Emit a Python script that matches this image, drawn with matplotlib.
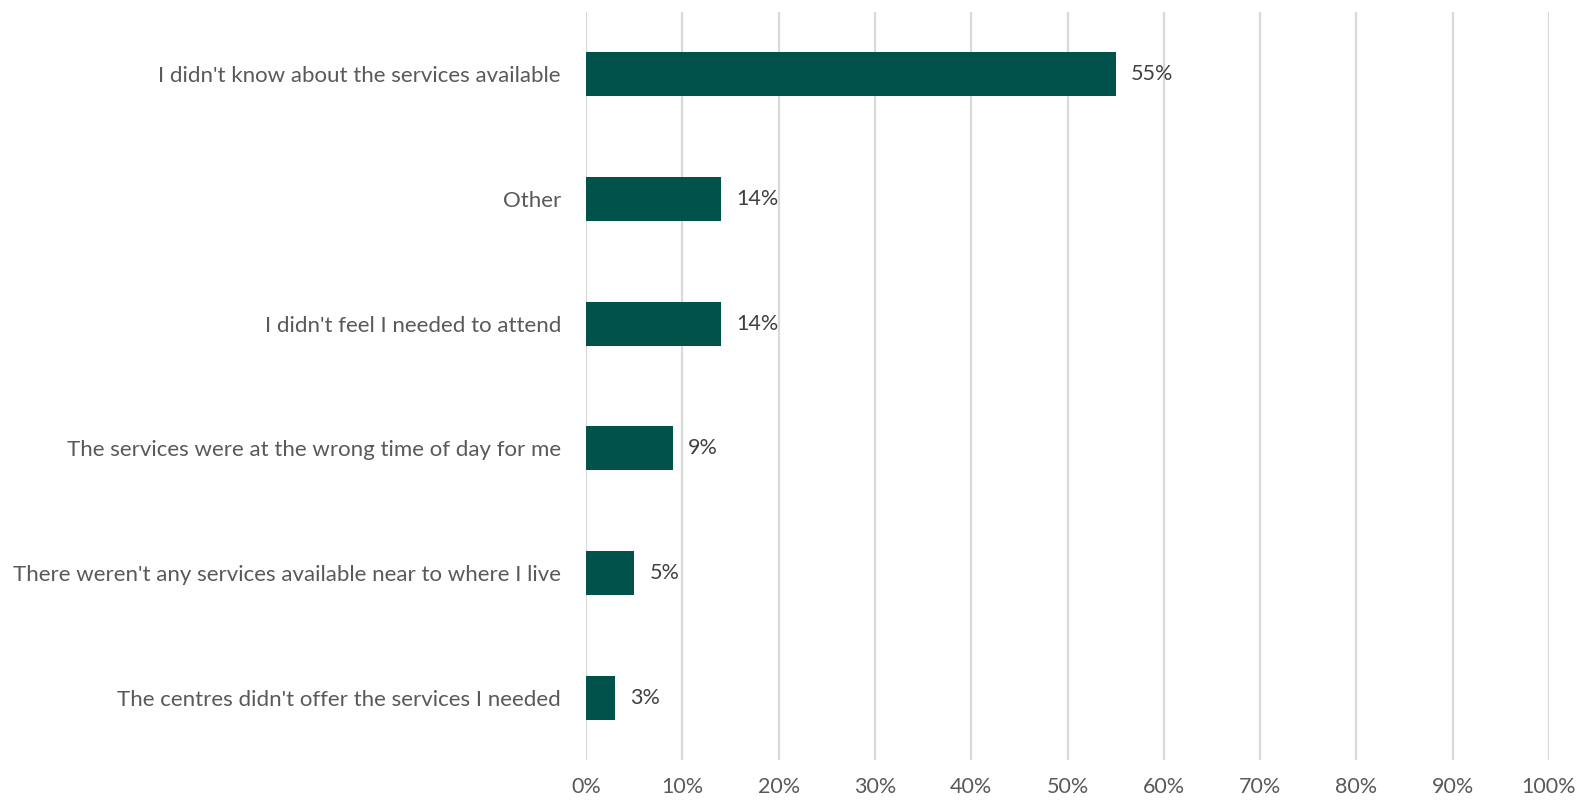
import matplotlib.pyplot as plt
from matplotlib.ticker import MultipleLocator, PercentFormatter

categories = [
    "I didn't know about the services available",
    "Other",
    "I didn't feel I needed to attend",
    "The services were at the wrong time of day for me",
    "There weren't any services available near to where I live",
    "The centres didn't offer the services I needed",
]
values = [55, 14, 14, 9, 5, 3]

bar_color = "#00524A"
grid_color = "#D9D9D9"
label_color = "#595959"
value_color = "#404040"

plt.rcParams["font.family"] = ["Lato", "DejaVu Sans"]

fig = plt.figure(figsize=(15.78, 8.0), dpi=100)
ax = fig.add_axes([586 / 1578, 40 / 800, (1549 - 586) / 1578, 748 / 800])

ypos = list(range(len(categories)))
ax.barh(ypos, values, height=0.353, color=bar_color, zorder=3)

for y, v in zip(ypos, values):
    ax.text(v + 1.6, y, f"{v}%", va="center", ha="left",
            fontsize=15.5, color=value_color, zorder=4)

ax.set_xlim(0, 100)
ax.set_ylim(len(categories) - 0.5, -0.5)
ax.xaxis.set_major_locator(MultipleLocator(10))
ax.xaxis.set_major_formatter(PercentFormatter(decimals=0))
ax.set_yticks(ypos)
ax.set_yticklabels(categories, fontsize=16)

ax.grid(axis="x", color=grid_color, linewidth=1.6, zorder=0)
for s in ax.spines.values():
    s.set_visible(False)
ax.tick_params(axis="both", length=0, colors=label_color)
ax.tick_params(axis="x", labelsize=15.5, pad=12)
ax.tick_params(axis="y", pad=18)

fig.savefig("out.png", dpi=100, facecolor="white")
